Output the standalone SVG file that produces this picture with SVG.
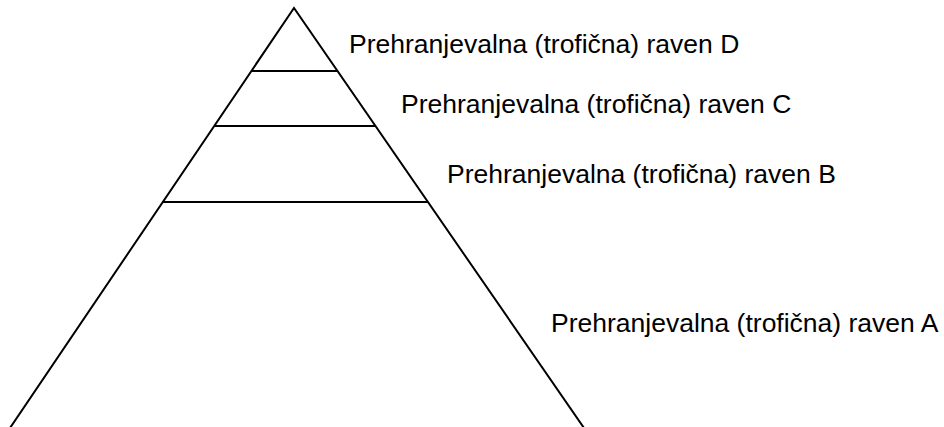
<svg xmlns="http://www.w3.org/2000/svg" width="944" height="427" viewBox="0 0 944 427">
  <style>
    .edge { stroke: #000; stroke-width: 2; fill: none; }
    .label { font-family: "Liberation Sans", Arial, sans-serif; font-size: 26.5px; fill: #000; }
  </style>
  <rect width="944" height="427" fill="#fff"/>
  <g id="pyramid">
    <path class="edge" d="M10,428 L294,8 L584,428"/>
  </g>
  <g id="connectors">
    <line class="edge" x1="252" y1="71" x2="338" y2="71"/>
    <line class="edge" x1="214" y1="126" x2="375" y2="126"/>
    <line class="edge" x1="162" y1="202" x2="428" y2="202"/>
  </g>
  <g id="level-d"><text class="label" x="349" y="53">Prehranjevalna (trofična) raven D</text></g>
  <g id="level-c"><text class="label" x="401" y="113">Prehranjevalna (trofična) raven C</text></g>
  <g id="level-b"><text class="label" x="447" y="183">Prehranjevalna (trofična) raven B</text></g>
  <g id="level-a"><text class="label" x="551" y="332">Prehranjevalna (trofična) raven A</text></g>
</svg>
